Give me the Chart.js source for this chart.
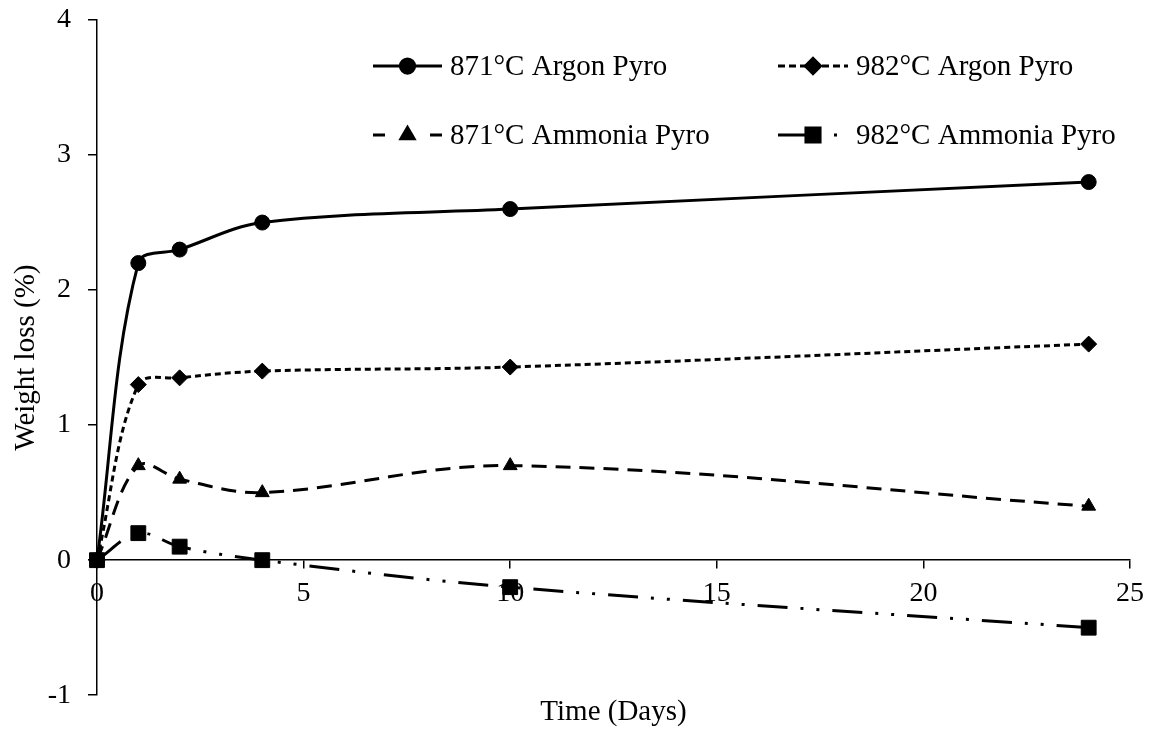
<!DOCTYPE html>
<html>
<head>
<meta charset="utf-8">
<script src="https://cdn.jsdelivr.net/npm/chart.js@4"></script>
<style>
  html, body { margin: 0; padding: 0; background: #fff; }
  #wrap { width: 1149px; height: 734px; }
</style>
</head>
<body>
<div id="wrap"><canvas id="grafico" width="1149" height="734"></canvas></div>
<script>
const dias = [0, 1, 2, 4, 10, 24];
const argon871 = [0, 2.2, 2.3, 2.5, 2.6, 2.8];
const argon982 = [0, 1.3, 1.35, 1.4, 1.43, 1.6];
const amonia871 = [0, 0.7, 0.6, 0.5, 0.7, 0.4];
const amonia982 = [0, 0.2, 0.1, 0, -0.2, -0.5];
const xTicks = [0, 5, 10, 15, 20, 25];
const yTicks = [-1, 0, 1, 2, 3, 4];

const fuente = "'Liberation Serif', 'Times New Roman', serif";

const series = [
  { label: '871°C Argon Pyro', data: argon871, estilo: 'circle', radio: 7.5, dash: [] },
  { label: '982°C Argon Pyro', data: argon982, estilo: 'rectRot', radio: 8, dash: [6, 4] },
  { label: '871°C Ammonia Pyro', data: amonia871, estilo: 'triangle', radio: 8, dash: [15, 9] },
  { label: '982°C Ammonia Pyro', data: amonia982, estilo: 'rect', radio: 10.5, dash: [30, 13, 3, 13, 3, 13] }
];

// leyenda en dos columnas dentro del area del grafico
const leyenda = {
  id: 'leyenda',
  afterDraw(chart) {
    const ctx = chart.ctx;
    const pos = [
      { x0: 373, x1: 442, y: 66 },
      { x0: 778, x1: 848, y: 66 },
      { x0: 373, x1: 442, y: 135 },
      { x0: 778, x1: 848, y: 135 }
    ];
    const dashLeyenda = [[], [7, 4], [12, 45], [30, 10, 3, 13, 3, 13]];
    ctx.save();
    series.forEach((s, i) => {
      const p = pos[i];
      ctx.strokeStyle = '#000';
      ctx.fillStyle = '#000';
      ctx.lineWidth = 3;
      ctx.setLineDash(dashLeyenda[i]);
      ctx.beginPath();
      ctx.moveTo(p.x0, p.y);
      ctx.lineTo(p.x1, p.y);
      ctx.stroke();
      ctx.setLineDash([]);
      const mx = i === 3 ? 813 : (p.x0 + p.x1) / 2;
      Chart.helpers.drawPoint(ctx, { pointStyle: s.estilo, radius: s.radio * 0.95, rotation: 0, borderWidth: 1 }, mx, p.y);
      ctx.fill();
      ctx.font = '29px ' + fuente;
      ctx.textBaseline = 'middle';
      ctx.textAlign = 'left';
      ctx.fillText(s.label, p.x1 + 8, p.y + 1);
    });
    ctx.restore();
  }
};

const ctx = document.getElementById('grafico').getContext('2d');

new Chart(ctx, {
  type: 'line',
  data: {
    datasets: series.map(s => ({
      label: s.label,
      data: dias.map((d, i) => ({ x: d, y: s.data[i] })),
      borderColor: '#000',
      backgroundColor: '#000',
      borderWidth: 3,
      borderDash: s.dash,
      tension: 0.35,
      pointStyle: s.estilo,
      pointRadius: s.radio,
      pointBorderWidth: 1,
      pointBackgroundColor: '#000',
      pointBorderColor: '#000',
      clip: false
    }))
  },
  options: {
    responsive: false,
    animation: false,
    layout: { padding: { top: 20, right: 19, left: 0, bottom: 0 } },
    plugins: {
      legend: { display: false },
      tooltip: { enabled: false },
      title: {
        display: true,
        text: 'Time (Days)',
        position: 'bottom',
        fullSize: false,
        color: '#000',
        font: { family: fuente, size: 29, weight: 'normal', lineHeight: 1.2 },
        padding: { top: 0, bottom: 4 }
      }
    },
    scales: {
      x: {
        type: 'linear',
        position: { y: 0 },
        min: 0,
        max: 25,
        afterBuildTicks: scale => { scale.ticks = xTicks.map(v => ({ value: v })); },
        afterFit: scale => { scale.paddingLeft = 0; scale.paddingRight = 0; },
        ticks: {
          color: '#000',
          font: { family: fuente, size: 28 },
          padding: 9,
          maxRotation: 0
        },
        grid: { display: true, drawOnChartArea: false, drawTicks: true, tickLength: 8, color: '#000', lineWidth: 1.5 },
        border: { display: true, color: '#000', width: 1.5 }
      },
      y: {
        type: 'linear',
        position: 'left',
        min: -1,
        max: 4,
        afterBuildTicks: scale => { scale.ticks = yTicks.map(v => ({ value: v })); },
        afterFit: scale => { scale.width = 97; scale.paddingTop = 0; scale.paddingBottom = 0; },
        ticks: {
          color: '#000',
          font: { family: fuente, size: 28 },
          padding: 17
        },
        grid: { display: true, drawOnChartArea: false, drawTicks: true, tickLength: 9, color: '#000', lineWidth: 1.5 },
        border: { display: true, color: '#000', width: 1.5 },
        title: {
          display: true,
          text: 'Weight loss (%)',
          color: '#000',
          font: { family: fuente, size: 29, lineHeight: 1.2 },
          padding: { top: 9, bottom: 0 }
        }
      }
    }
  },
  plugins: [leyenda]
});
</script>
</body>
</html>
